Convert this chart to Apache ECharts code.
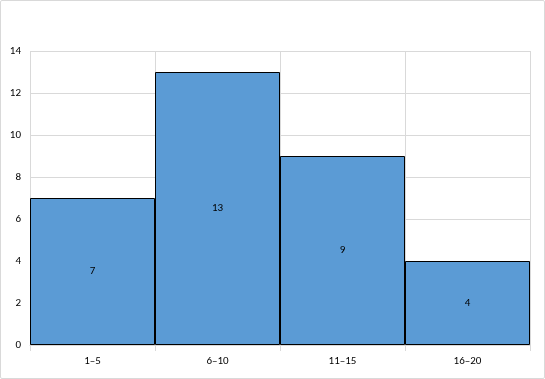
<!DOCTYPE html>
<html><head><meta charset="utf-8">
<script src="https://cdn.jsdelivr.net/npm/echarts@6/dist/echarts.min.js"></script>
<style>html,body{margin:0;padding:0;background:#fff}#c{width:545px;height:379px;box-sizing:border-box;border:1px solid #d9d9d9;border-radius:2px}</style>
</head><body><div id="c"></div>
<script>
const categories = ['1–5', '6–10', '11–15', '16–20'];
const counts = [7, 13, 9, 4];
const chart = echarts.init(document.getElementById('c'), null, {renderer: 'canvas'});
const font = 'Calibri, Carlito, "Liberation Sans", "DejaVu Sans", sans-serif';
chart.setOption({
  animation: false,
  grid: {left: 29, right: 14, top: 50, bottom: 33},
  xAxis: {
    type: 'category', data: categories, boundaryGap: true,
    axisLine: {lineStyle: {color: '#d9d9d9'}},
    axisTick: {show: true, length: 6, lineStyle: {color: '#d9d9d9'}},
    axisLabel: {color: '#000', fontSize: 11, fontFamily: font, margin: 11},
    splitLine: {show: true, lineStyle: {color: '#d9d9d9'}}
  },
  yAxis: {
    type: 'value', min: 0, max: 14, interval: 2,
    axisLine: {show: false}, axisTick: {show: false},
    axisLabel: {color: '#000', fontSize: 11, fontFamily: font, margin: 9},
    splitLine: {lineStyle: {color: '#d9d9d9'}}
  },
  series: [{
    type: 'bar', data: counts, barCategoryGap: '0%',
    itemStyle: {color: '#5b9bd5', borderColor: '#000', borderWidth: 1},
    label: {show: true, position: 'inside', color: '#000', fontSize: 11, fontFamily: font}
  }]
});
</script></body></html>
